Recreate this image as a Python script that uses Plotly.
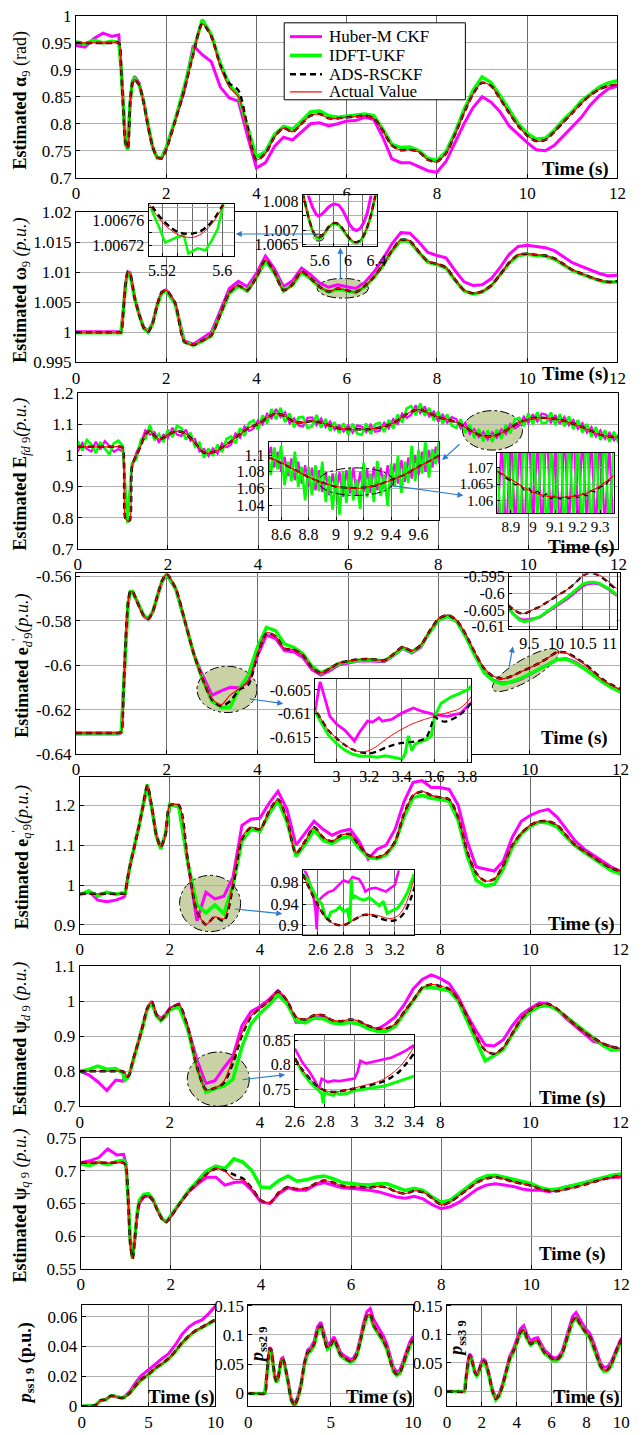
import numpy as np
import plotly.graph_objects as go

FONT = "Liberation Serif"
W, H = 643, 1435
C_HUB, C_IDF, C_ADS, C_ACT = "#ff00ff", "#00ff00", "#000000", "#ff0000"
OLIVE = "#c8d2a5"
ARROW = "#2b7bd0"

# ---------------- common time base of the seven main panels ----------------
t_main = [0, 0.2, 0.4, 0.6, 0.8,
          0.95, 1.0, 1.05, 1.1, 1.15, 1.2, 1.25, 1.3,
          1.4, 1.5, 1.6, 1.7, 1.8, 1.9,
          2.0, 2.2, 2.4, 2.6, 2.8, 3.0, 3.2, 3.4, 3.6, 3.8,
          4.0, 4.2, 4.4, 4.6, 4.8, 5.0, 5.2, 5.4, 5.6, 5.8,
          6.0, 6.2, 6.4, 6.6, 6.8, 7.0, 7.2, 7.4, 7.6, 7.8,
          8.0, 8.2, 8.4, 8.6, 8.8, 9.0, 9.2, 9.4, 9.6, 9.8,
          10.0, 10.2, 10.4, 10.6, 10.8, 11.0, 11.2, 11.4, 11.6, 11.8,
          12.0]
t_fine = np.round(np.arange(0, 12.001, 0.1), 1)

# ---------------- rotor angle alpha_9 (rad) ----------------
act_alpha = [0.950, 0.950, 0.950, 0.950, 0.950,
             0.950, 0.905, 0.830, 0.765, 0.755, 0.835, 0.874, 0.882,
             0.872, 0.840, 0.795, 0.758, 0.738, 0.736,
             0.752, 0.805, 0.862, 0.928, 0.985, 0.962, 0.905, 0.868, 0.850, 0.790,
             0.733, 0.745, 0.775, 0.792, 0.785, 0.800, 0.815, 0.818, 0.810, 0.810,
             0.812, 0.813, 0.815, 0.810, 0.787, 0.760, 0.751, 0.752, 0.748, 0.733,
             0.730, 0.745, 0.780, 0.820, 0.855, 0.876, 0.870, 0.846, 0.820, 0.796,
             0.778, 0.768, 0.770, 0.785, 0.803, 0.820, 0.838, 0.853, 0.864, 0.870,
             0.873]
ads_alpha = [0.950, 0.950, 0.950, 0.950, 0.950,
             0.950, 0.905, 0.830, 0.765, 0.755, 0.835, 0.874, 0.882,
             0.872, 0.840, 0.795, 0.758, 0.738, 0.736,
             0.752, 0.805, 0.862, 0.928, 0.985, 0.962, 0.908, 0.875, 0.862, 0.795,
             0.733, 0.745, 0.775, 0.792, 0.785, 0.800, 0.815, 0.818, 0.810, 0.810,
             0.812, 0.813, 0.815, 0.810, 0.787, 0.760, 0.751, 0.752, 0.748, 0.733,
             0.730, 0.745, 0.780, 0.820, 0.855, 0.876, 0.870, 0.846, 0.820, 0.796,
             0.778, 0.768, 0.770, 0.785, 0.803, 0.820, 0.838, 0.853, 0.864, 0.870,
             0.873]
idft_alpha = [0.952, 0.948, 0.955, 0.950, 0.953,
              0.951, 0.905, 0.832, 0.762, 0.752, 0.838, 0.876, 0.884,
              0.873, 0.842, 0.797, 0.757, 0.737, 0.737,
              0.755, 0.807, 0.868, 0.935, 0.993, 0.965, 0.912, 0.872, 0.852, 0.795,
              0.738, 0.748, 0.780, 0.795, 0.790, 0.805, 0.822, 0.824, 0.815, 0.812,
              0.814, 0.815, 0.818, 0.815, 0.790, 0.762, 0.756, 0.757, 0.750, 0.736,
              0.732, 0.748, 0.784, 0.826, 0.862, 0.887, 0.876, 0.852, 0.826, 0.800,
              0.782, 0.772, 0.773, 0.788, 0.807, 0.823, 0.842, 0.856, 0.868, 0.876,
              0.880]
huber_alpha = [0.945, 0.942, 0.958, 0.968, 0.962,
               0.965, 0.910, 0.830, 0.765, 0.752, 0.838, 0.878, 0.888,
               0.876, 0.842, 0.796, 0.757, 0.737, 0.737,
               0.755, 0.808, 0.860, 0.945, 0.928, 0.915, 0.868, 0.848, 0.842, 0.778,
               0.718, 0.728, 0.758, 0.775, 0.770, 0.785, 0.800, 0.802, 0.796, 0.800,
               0.805, 0.806, 0.812, 0.808, 0.775, 0.735, 0.728, 0.728, 0.720, 0.713,
               0.710, 0.730, 0.765, 0.800, 0.830, 0.850, 0.840, 0.822, 0.796, 0.780,
               0.765, 0.752, 0.750, 0.760, 0.778, 0.795, 0.812, 0.835, 0.852, 0.865,
               0.870]

# ---------------- speed omega_9 (p.u.) ----------------
act_omega = [1.0000, 1.0000, 1.0000, 1.0000, 1.0000,
             1.0000, 1.0000, 1.0035, 1.0080, 1.0100, 1.0098, 1.0080, 1.0058,
             1.0030, 1.0008, 1.0001, 1.0015, 1.0045, 1.0066,
             1.0070, 1.0048, 0.9985, 0.9979, 0.9986, 0.9995, 1.0030, 1.0066, 1.0078, 1.0070,
             1.0092, 1.0120, 1.0100, 1.0070, 1.0080, 1.0101, 1.0090, 1.0076, 1.0068, 1.0073,
             1.0070, 1.0067, 1.0077, 1.0092, 1.0112, 1.0136, 1.0154, 1.0152, 1.0134, 1.0118,
             1.0114, 1.0108, 1.0088, 1.0070, 1.0065, 1.0068, 1.0078, 1.0096, 1.0116, 1.0129,
             1.0131, 1.0129, 1.0128, 1.0123, 1.0114, 1.0104, 1.0098, 1.0092, 1.0087, 1.0084,
             1.0085]
ads_omega = [1.0000, 1.0000, 1.0000, 1.0000, 1.0000,
             1.0000, 1.0000, 1.0035, 1.0080, 1.0100, 1.0098, 1.0080, 1.0058,
             1.0030, 1.0008, 1.0001, 1.0015, 1.0045, 1.0066,
             1.0070, 1.0048, 0.9985, 0.9979, 0.9986, 0.9995, 1.0030, 1.0066, 1.0078, 1.0070,
             1.0092, 1.0120, 1.0100, 1.0070, 1.0080, 1.0101, 1.0090, 1.0076, 1.0068, 1.0073,
             1.0070, 1.0067, 1.0077, 1.0092, 1.0112, 1.0136, 1.0154, 1.0152, 1.0134, 1.0118,
             1.0114, 1.0108, 1.0088, 1.0070, 1.0065, 1.0068, 1.0078, 1.0096, 1.0116, 1.0129,
             1.0131, 1.0129, 1.0128, 1.0123, 1.0114, 1.0104, 1.0098, 1.0092, 1.0087, 1.0084,
             1.0085]
idft_omega = [0.9999, 0.9999, 0.9999, 0.9999, 0.9999,
              0.9999, 0.9999, 1.0034, 1.0079, 1.0099, 1.0097, 1.0079, 1.0057,
              1.0029, 1.0007, 1.0000, 1.0014, 1.0044, 1.0065,
              1.0069, 1.0047, 0.9984, 0.9978, 0.9985, 0.9994, 1.0029, 1.0065, 1.0077, 1.0069,
              1.0091, 1.0119, 1.0099, 1.0069, 1.0079, 1.0100, 1.0089, 1.0075, 1.0067, 1.0072,
              1.0069, 1.0066, 1.0076, 1.0091, 1.0111, 1.0135, 1.0153, 1.0151, 1.0133, 1.0117,
              1.0113, 1.0107, 1.0087, 1.0069, 1.0064, 1.0067, 1.0077, 1.0095, 1.0115, 1.0128,
              1.0130, 1.0128, 1.0127, 1.0122, 1.0113, 1.0103, 1.0097, 1.0091, 1.0086, 1.0083,
              1.0084]
huber_omega = [1.0001, 1.0001, 1.0001, 1.0001, 1.0001,
               1.0001, 1.0001, 1.0036, 1.0081, 1.0101, 1.0099, 1.0081, 1.0059,
               1.0031, 1.0009, 1.0002, 1.0016, 1.0046, 1.0067,
               1.0071, 1.0049, 0.9986, 0.9980, 0.9990, 1.0000, 1.0036, 1.0073, 1.0085, 1.0076,
               1.0098, 1.0127, 1.0106, 1.0076, 1.0086, 1.0107, 1.0096, 1.0082, 1.0075, 1.0079,
               1.0076, 1.0073, 1.0083, 1.0100, 1.0122, 1.0147, 1.0166, 1.0165, 1.0150, 1.0133,
               1.0128, 1.0124, 1.0103, 1.0084, 1.0078, 1.0079, 1.0089, 1.0108, 1.0130, 1.0143,
               1.0145, 1.0143, 1.0141, 1.0136, 1.0126, 1.0116, 1.0110, 1.0104, 1.0098, 1.0094,
               1.0095]

# ---------------- field voltage E_fd9 (p.u.) ----------------
act_efd = [1.027, 1.027, 1.027, 1.027, 1.027,
           1.027, 1.022, 0.800, 0.790, 0.790, 0.960, 0.985, 1.000,
           1.030, 1.068, 1.078, 1.062, 1.052, 1.056,
           1.066, 1.077, 1.068, 1.040, 1.008, 1.010, 1.025, 1.045, 1.068, 1.088,
           1.100, 1.120, 1.134, 1.125, 1.107, 1.105, 1.110, 1.105, 1.095, 1.086,
           1.084, 1.083, 1.083, 1.086, 1.092, 1.103, 1.122, 1.140, 1.147, 1.135,
           1.122, 1.115, 1.105, 1.090, 1.072, 1.062, 1.061, 1.071, 1.088, 1.105,
           1.115, 1.120, 1.119, 1.116, 1.110, 1.101, 1.090, 1.077, 1.066, 1.060,
           1.057]
ads_efd = [1.027, 1.027, 1.027, 1.027, 1.027,
           1.027, 1.022, 0.800, 0.790, 0.790, 0.960, 0.985, 1.000,
           1.030, 1.068, 1.078, 1.062, 1.052, 1.056,
           1.066, 1.077, 1.068, 1.040, 1.008, 1.010, 1.025, 1.045, 1.068, 1.088,
           1.100, 1.120, 1.134, 1.125, 1.107, 1.105, 1.110, 1.105, 1.095, 1.086,
           1.084, 1.083, 1.083, 1.086, 1.092, 1.103, 1.122, 1.140, 1.147, 1.135,
           1.122, 1.115, 1.105, 1.090, 1.072, 1.062, 1.061, 1.071, 1.088, 1.105,
           1.115, 1.120, 1.119, 1.116, 1.110, 1.101, 1.090, 1.077, 1.066, 1.060,
           1.057]
idft_efd = [1.045, 1.015, 1.049, 1.035, 1.007, 1.042, 1.021, 1.003, 1.039, 1.047,
            1.030, 0.783, 0.975, 0.988, 1.050, 1.052, 1.097, 1.048, 1.068, 1.042,
            1.082, 1.058, 1.094, 1.087, 1.050, 1.072, 1.028, 1.040, 0.992, 1.021,
            0.998, 1.034, 1.010, 1.052, 1.060, 1.038, 1.087, 1.062, 1.104, 1.112,
            1.082, 1.128, 1.102, 1.148, 1.115, 1.152, 1.106, 1.134, 1.089, 1.121,
            1.123, 1.087, 1.094, 1.129, 1.088, 1.116, 1.078, 1.106, 1.071, 1.102,
            1.066, 1.101, 1.070, 1.065, 1.102, 1.068, 1.099, 1.104, 1.074, 1.113,
            1.086, 1.130, 1.105, 1.150, 1.158, 1.128, 1.166, 1.126, 1.152, 1.112,
            1.140, 1.101, 1.131, 1.095, 1.088, 1.116, 1.072, 1.098, 1.055, 1.084,
            1.044, 1.079, 1.042, 1.082, 1.053, 1.097, 1.070, 1.115, 1.120, 1.093,
            1.134, 1.099, 1.138, 1.103, 1.104, 1.137, 1.097, 1.131, 1.093, 1.124,
            1.084, 1.113, 1.073, 1.100, 1.060, 1.090, 1.049, 1.080, 1.043, 1.075,
            1.040]
huber_efd = [1.012, 1.040, 1.020, 1.012, 1.043, 1.018, 1.045, 1.030, 1.011, 1.020,
             1.012, 0.792, 0.962, 1.008, 1.040, 1.080, 1.066, 1.074, 1.040, 1.066,
             1.055, 1.088, 1.066, 1.062, 1.082, 1.046, 1.052, 1.012, 1.020, 0.998,
             1.022, 1.005, 1.038, 1.026, 1.034, 1.070, 1.056, 1.092, 1.078, 1.085,
             1.112, 1.098, 1.133, 1.118, 1.148, 1.122, 1.138, 1.102, 1.118, 1.095,
             1.092, 1.120, 1.121, 1.096, 1.118, 1.090, 1.108, 1.082, 1.096, 1.076,
             1.096, 1.072, 1.095, 1.092, 1.074, 1.098, 1.075, 1.078, 1.104, 1.086,
             1.116, 1.100, 1.134, 1.120, 1.130, 1.160, 1.135, 1.156, 1.124, 1.140,
             1.108, 1.130, 1.104, 1.122, 1.116, 1.086, 1.104, 1.068, 1.084, 1.058,
             1.075, 1.050, 1.073, 1.056, 1.083, 1.068, 1.100, 1.086, 1.096, 1.124,
             1.103, 1.131, 1.108, 1.134, 1.130, 1.105, 1.129, 1.100, 1.123, 1.096,
             1.113, 1.084, 1.103, 1.072, 1.090, 1.060, 1.080, 1.052, 1.072, 1.048,
             1.066]

# ---------------- transient voltage e'_d9 (p.u.) ----------------
act_ed = [-0.6305, -0.6305, -0.6305, -0.6305, -0.6305,
          -0.6305, -0.6300, -0.6120, -0.5880, -0.5720, -0.5668, -0.5668, -0.5690,
          -0.5738, -0.5778, -0.5790, -0.5755, -0.5685, -0.5620,
          -0.5590, -0.5655, -0.5800, -0.5950, -0.6065, -0.6152, -0.6178, -0.6135, -0.6106, -0.6070,
          -0.5950, -0.5855, -0.5870, -0.5925, -0.5930, -0.5955, -0.6010, -0.6035, -0.6015, -0.5990,
          -0.5982, -0.5975, -0.5972, -0.5975, -0.5978, -0.5950, -0.5918, -0.5935, -0.5910, -0.5845,
          -0.5790, -0.5775, -0.5800, -0.5865, -0.5945, -0.6015, -0.6050, -0.6061, -0.6050, -0.6030,
          -0.6012, -0.5992, -0.5968, -0.5942, -0.5945, -0.5968, -0.5995, -0.6030, -0.6065, -0.6090,
          -0.6110]
ads_ed = [-0.6305, -0.6305, -0.6305, -0.6305, -0.6305,
          -0.6305, -0.6300, -0.6120, -0.5880, -0.5720, -0.5668, -0.5668, -0.5690,
          -0.5738, -0.5778, -0.5790, -0.5755, -0.5685, -0.5620,
          -0.5590, -0.5655, -0.5800, -0.5950, -0.6065, -0.6155, -0.6184, -0.6162, -0.6110, -0.6088,
          -0.5955, -0.5857, -0.5870, -0.5925, -0.5930, -0.5955, -0.6010, -0.6035, -0.6015, -0.5990,
          -0.5982, -0.5975, -0.5972, -0.5975, -0.5978, -0.5950, -0.5918, -0.5935, -0.5910, -0.5845,
          -0.5790, -0.5775, -0.5800, -0.5865, -0.5945, -0.6015, -0.6050, -0.6061, -0.6050, -0.6030,
          -0.6012, -0.5992, -0.5968, -0.5942, -0.5943, -0.5965, -0.5992, -0.6027, -0.6062, -0.6088,
          -0.6108]
idft_ed = [-0.6305, -0.6305, -0.6305, -0.6305, -0.6305,
           -0.6305, -0.6300, -0.6120, -0.5880, -0.5720, -0.5668, -0.5668, -0.5690,
           -0.5738, -0.5778, -0.5790, -0.5755, -0.5685, -0.5620,
           -0.5590, -0.5655, -0.5800, -0.5952, -0.6070, -0.6163, -0.6190, -0.6190, -0.6106, -0.6045,
           -0.5920, -0.5830, -0.5845, -0.5905, -0.5920, -0.5948, -0.6005, -0.6035, -0.6015, -0.5992,
           -0.5985, -0.5978, -0.5975, -0.5978, -0.5980, -0.5955, -0.5922, -0.5940, -0.5915, -0.5850,
           -0.5795, -0.5780, -0.5805, -0.5875, -0.5960, -0.6035, -0.6070, -0.6085, -0.6075, -0.6060,
           -0.6040, -0.6020, -0.5998, -0.5975, -0.5972, -0.5990, -0.6015, -0.6045, -0.6075, -0.6100,
           -0.6120]
huber_ed = [-0.6310, -0.6310, -0.6310, -0.6310, -0.6310,
            -0.6310, -0.6305, -0.6125, -0.5885, -0.5725, -0.5672, -0.5672, -0.5694,
            -0.5742, -0.5782, -0.5795, -0.5760, -0.5690, -0.5625,
            -0.5593, -0.5658, -0.5802, -0.5950, -0.6050, -0.6135, -0.6116, -0.6100, -0.6102, -0.6075,
            -0.5960, -0.5865, -0.5880, -0.5935, -0.5940, -0.5965, -0.6020, -0.6045, -0.6025, -0.5998,
            -0.5990, -0.5982, -0.5980, -0.5982, -0.5985, -0.5958, -0.5925, -0.5945, -0.5920, -0.5850,
            -0.5795, -0.5780, -0.5805, -0.5872, -0.5955, -0.6030, -0.6068, -0.6080, -0.6077, -0.6064,
            -0.6042, -0.6022, -0.6000, -0.5975, -0.5970, -0.5985, -0.6012, -0.6045, -0.6075, -0.6098,
            -0.6118]

# ---------------- transient voltage e'_q9 (p.u.) ----------------
act_eq = [0.978, 0.978, 0.978, 0.978, 0.978,
          0.978, 0.978, 1.010, 1.040, 1.065, 1.090, 1.115, 1.140,
          1.195, 1.250, 1.195, 1.125, 1.096, 1.125,
          1.200, 1.200, 1.060, 0.935, 0.901, 0.920, 0.915, 1.010, 1.120, 1.145,
          1.140, 1.185, 1.215, 1.165, 1.080, 1.110, 1.145, 1.120, 1.110, 1.125,
          1.128, 1.100, 1.075, 1.070, 1.080, 1.110, 1.180, 1.225, 1.235, 1.225,
          1.220, 1.215, 1.170, 1.085, 1.030, 1.010, 1.015, 1.050, 1.100, 1.130,
          1.150, 1.160, 1.160, 1.150, 1.125, 1.100, 1.085, 1.070, 1.055, 1.042,
          1.035]
ads_eq = [0.978, 0.978, 0.978, 0.978, 0.978,
          0.978, 0.978, 1.010, 1.040, 1.065, 1.090, 1.115, 1.140,
          1.195, 1.250, 1.195, 1.125, 1.096, 1.125,
          1.200, 1.200, 1.060, 0.935, 0.901, 0.920, 0.910, 0.995, 1.115, 1.145,
          1.140, 1.185, 1.215, 1.165, 1.080, 1.110, 1.145, 1.120, 1.110, 1.125,
          1.128, 1.100, 1.075, 1.070, 1.080, 1.110, 1.180, 1.225, 1.235, 1.225,
          1.220, 1.215, 1.170, 1.085, 1.030, 1.010, 1.015, 1.050, 1.100, 1.130,
          1.150, 1.160, 1.160, 1.150, 1.125, 1.100, 1.085, 1.070, 1.055, 1.042,
          1.035]
idft_eq = [0.975, 0.985, 0.972, 0.982, 0.976,
           0.980, 0.975, 1.012, 1.038, 1.068, 1.088, 1.118, 1.138,
           1.198, 1.252, 1.192, 1.122, 1.090, 1.128,
           1.203, 1.196, 1.055, 0.950, 0.930, 0.950, 0.928, 1.000, 1.110, 1.140,
           1.135, 1.178, 1.212, 1.158, 1.072, 1.102, 1.138, 1.112, 1.104, 1.118,
           1.122, 1.092, 1.070, 1.066, 1.075, 1.105, 1.172, 1.220, 1.225, 1.218,
           1.215, 1.210, 1.162, 1.072, 1.012, 0.998, 1.002, 1.040, 1.095, 1.128,
           1.148, 1.158, 1.156, 1.145, 1.120, 1.098, 1.082, 1.066, 1.050, 1.036,
           1.028]
huber_eq = [0.975, 0.985, 0.962, 0.958, 0.962,
            0.968, 0.972, 1.010, 1.040, 1.065, 1.090, 1.115, 1.140,
            1.195, 1.250, 1.195, 1.125, 1.096, 1.125,
            1.200, 1.200, 1.060, 0.910, 0.982, 0.965, 0.972, 1.020, 1.150, 1.165,
            1.168, 1.205, 1.235, 1.190, 1.100, 1.130, 1.160, 1.140, 1.125, 1.135,
            1.140, 1.110, 1.065, 1.090, 1.100, 1.140, 1.210, 1.258, 1.262, 1.245,
            1.245, 1.240, 1.200, 1.110, 1.045, 1.040, 1.035, 1.060, 1.120, 1.160,
            1.175, 1.185, 1.190, 1.170, 1.140, 1.110, 1.090, 1.075, 1.060, 1.045,
            1.035]

# ---------------- flux psi_d9 (p.u.) ----------------
act_psd = [0.800, 0.800, 0.800, 0.800, 0.800,
           0.800, 0.795, 0.784, 0.790, 0.815, 0.840, 0.862, 0.882,
           0.930, 0.980, 0.998, 0.962, 0.947, 0.960,
           0.978, 0.990, 0.925, 0.813, 0.748, 0.752, 0.772, 0.837, 0.910, 0.958,
           0.980, 1.000, 1.028, 1.002, 0.955, 0.948, 0.960, 0.960, 0.946, 0.943,
           0.948, 0.943, 0.930, 0.922, 0.922, 0.935, 0.970, 1.003, 1.038, 1.048,
           1.043, 1.035, 1.005, 0.955, 0.900, 0.860, 0.850, 0.868, 0.908, 0.950,
           0.975, 0.990, 0.992, 0.978, 0.955, 0.932, 0.912, 0.895, 0.880, 0.870,
           0.865]
ads_psd = [0.800, 0.800, 0.800, 0.800, 0.800,
           0.800, 0.795, 0.784, 0.790, 0.815, 0.840, 0.862, 0.882,
           0.930, 0.980, 0.998, 0.962, 0.947, 0.960,
           0.978, 0.990, 0.925, 0.813, 0.748, 0.752, 0.767, 0.823, 0.902, 0.955,
           0.980, 1.000, 1.028, 1.002, 0.955, 0.948, 0.960, 0.960, 0.946, 0.943,
           0.948, 0.943, 0.930, 0.922, 0.922, 0.935, 0.970, 1.003, 1.038, 1.048,
           1.043, 1.035, 1.005, 0.955, 0.900, 0.860, 0.850, 0.868, 0.908, 0.950,
           0.975, 0.990, 0.992, 0.978, 0.955, 0.932, 0.912, 0.895, 0.880, 0.870,
           0.865]
idft_psd = [0.800, 0.805, 0.815, 0.806, 0.808,
            0.795, 0.775, 0.780, 0.790, 0.812, 0.838, 0.860, 0.880,
            0.928, 0.978, 0.995, 0.958, 0.944, 0.957,
            0.975, 0.985, 0.918, 0.810, 0.740, 0.750, 0.758, 0.777, 0.870, 0.935,
            0.965, 0.988, 1.018, 0.992, 0.945, 0.938, 0.952, 0.950, 0.938, 0.935,
            0.940, 0.935, 0.922, 0.914, 0.914, 0.928, 0.965, 1.000, 1.038, 1.040,
            1.036, 1.030, 1.000, 0.945, 0.885, 0.830, 0.845, 0.862, 0.905, 0.945,
            0.970, 0.985, 0.988, 0.975, 0.955, 0.935, 0.915, 0.895, 0.875, 0.860,
            0.862]
huber_psd = [0.800, 0.790, 0.770, 0.745, 0.775,
             0.772, 0.782, 0.784, 0.792, 0.815, 0.840, 0.862, 0.882,
             0.930, 0.980, 1.000, 0.962, 0.950, 0.962,
             0.980, 0.992, 0.925, 0.833, 0.765, 0.773, 0.810, 0.843, 0.930, 0.970,
             0.985, 1.005, 1.030, 1.000, 0.940, 0.940, 0.955, 0.955, 0.940, 0.938,
             0.940, 0.935, 0.925, 0.920, 0.935, 0.955, 0.990, 1.035, 1.062, 1.075,
             1.065, 1.050, 1.012, 0.960, 0.915, 0.875, 0.872, 0.890, 0.930, 0.962,
             0.980, 0.995, 0.992, 0.975, 0.950, 0.928, 0.905, 0.885, 0.878, 0.870,
             0.862]

# ---------------- flux psi_q9 (p.u.) ----------------
act_psq = [0.712, 0.712, 0.712, 0.712, 0.712,
           0.712, 0.708, 0.660, 0.590, 0.566, 0.595, 0.630, 0.650,
           0.660, 0.662, 0.655, 0.640, 0.627, 0.622,
           0.630, 0.650, 0.668, 0.682, 0.695, 0.703, 0.699, 0.687, 0.686, 0.672,
           0.655, 0.651, 0.667, 0.675, 0.672, 0.673, 0.680, 0.685, 0.682, 0.677,
           0.675, 0.675, 0.674, 0.676, 0.674, 0.668, 0.665, 0.669, 0.667, 0.658,
           0.648, 0.652, 0.662, 0.672, 0.682, 0.688, 0.690, 0.687, 0.683, 0.680,
           0.677, 0.672, 0.669, 0.669, 0.672, 0.675, 0.679, 0.683, 0.687, 0.690,
           0.692]
ads_psq = [0.712, 0.712, 0.712, 0.712, 0.712,
           0.712, 0.708, 0.660, 0.590, 0.566, 0.595, 0.630, 0.650,
           0.660, 0.662, 0.655, 0.640, 0.627, 0.622,
           0.630, 0.650, 0.668, 0.682, 0.695, 0.703, 0.700, 0.694, 0.688, 0.673,
           0.655, 0.651, 0.667, 0.675, 0.672, 0.673, 0.680, 0.685, 0.682, 0.677,
           0.675, 0.675, 0.674, 0.676, 0.674, 0.668, 0.665, 0.669, 0.667, 0.658,
           0.648, 0.652, 0.662, 0.672, 0.682, 0.688, 0.690, 0.687, 0.683, 0.680,
           0.677, 0.672, 0.669, 0.669, 0.672, 0.675, 0.679, 0.683, 0.687, 0.690,
           0.692]
idft_psq = [0.710, 0.708, 0.713, 0.709, 0.714,
            0.716, 0.712, 0.662, 0.592, 0.566, 0.598, 0.635, 0.655,
            0.664, 0.665, 0.657, 0.641, 0.627, 0.622,
            0.632, 0.652, 0.670, 0.685, 0.700, 0.707, 0.703, 0.718, 0.713, 0.700,
            0.675, 0.674, 0.685, 0.692, 0.684, 0.686, 0.690, 0.692, 0.688, 0.682,
            0.680, 0.679, 0.678, 0.680, 0.680, 0.675, 0.670, 0.673, 0.670, 0.660,
            0.652, 0.655, 0.665, 0.675, 0.686, 0.692, 0.693, 0.690, 0.687, 0.683,
            0.680, 0.674, 0.671, 0.672, 0.675, 0.678, 0.682, 0.686, 0.690, 0.693,
            0.695]
huber_psq = [0.712, 0.715, 0.720, 0.733, 0.724,
             0.725, 0.712, 0.660, 0.590, 0.566, 0.595, 0.630, 0.650,
             0.660, 0.662, 0.655, 0.640, 0.627, 0.622,
             0.630, 0.650, 0.668, 0.680, 0.690, 0.690, 0.678, 0.682, 0.683, 0.670,
             0.652, 0.650, 0.665, 0.674, 0.670, 0.670, 0.678, 0.682, 0.678, 0.674,
             0.673, 0.672, 0.670, 0.668, 0.664, 0.660, 0.658, 0.661, 0.657, 0.648,
             0.642, 0.645, 0.652, 0.662, 0.672, 0.678, 0.680, 0.678, 0.676, 0.672,
             0.670, 0.670, 0.668, 0.672, 0.676, 0.678, 0.682, 0.686, 0.688, 0.690,
             0.690]

# ---------------- PSS outputs (bottom row) ----------------
t_ss1 = [0, 0.5, 1.0, 1.2, 1.4, 1.6, 1.8, 2.0, 2.2, 2.4, 2.6, 2.8, 3.0, 3.2,
         3.6, 4.0, 4.4, 5.0, 5.5, 6.0, 6.5, 7.0, 7.5, 8.0, 8.5, 9.0, 9.5, 10.0]
act_ss1 = [0, 0, 0.0005, 0.0020, 0.0038, 0.0042, 0.0045, 0.0058, 0.0070, 0.0068, 0.0062, 0.0057, 0.0055, 0.0060,
           0.0090, 0.0135, 0.0175, 0.0215, 0.0255, 0.0285, 0.0320, 0.0368, 0.0425, 0.0470, 0.0505, 0.0530, 0.0555, 0.0580]
ads_ss1 = [0, 0, 0.0005, 0.0020, 0.0038, 0.0042, 0.0045, 0.0058, 0.0070, 0.0068, 0.0062, 0.0057, 0.0055, 0.0060,
           0.0090, 0.0135, 0.0175, 0.0215, 0.0255, 0.0285, 0.0320, 0.0368, 0.0425, 0.0470, 0.0505, 0.0530, 0.0555, 0.0580]
idft_ss1 = [0, 0, 0.0005, 0.0020, 0.0038, 0.0042, 0.0045, 0.0058, 0.0070, 0.0068, 0.0062, 0.0057, 0.0055, 0.0060,
            0.0088, 0.0132, 0.0172, 0.0212, 0.0252, 0.0282, 0.0317, 0.0365, 0.0422, 0.0467, 0.0502, 0.0527, 0.0552, 0.0577]
huber_ss1 = [0, 0, 0.0005, 0.0020, 0.0038, 0.0042, 0.0045, 0.0058, 0.0070, 0.0068, 0.0062, 0.0058, 0.0058, 0.0065,
             0.0100, 0.0155, 0.0200, 0.0245, 0.0285, 0.0318, 0.0352, 0.0410, 0.0480, 0.0530, 0.0560, 0.0578, 0.0620, 0.0670]

t_ss = [0, 0.5, 1.0, 1.1, 1.2, 1.3, 1.4, 1.5, 1.6, 1.7, 1.8, 1.9, 2.0, 2.1, 2.2,
        2.4, 2.6, 2.8, 3.0, 3.2, 3.4, 3.6, 3.8,
        4.0, 4.2, 4.4, 4.6, 4.8, 5.0, 5.2, 5.4, 5.6, 5.8,
        6.0, 6.2, 6.4, 6.6, 6.8, 7.0, 7.2, 7.4, 7.6, 7.8,
        8.0, 8.2, 8.4, 8.6, 8.8, 9.0, 9.2, 9.4, 9.6, 9.8, 10.0]
act_ss2 = [0, 0, 0, 0.025, 0.058, 0.077, 0.073, 0.052, 0.030, 0.021, 0.025, 0.042, 0.057, 0.059, 0.050,
           0.022, -0.010, -0.020, -0.008, 0.015, 0.050, 0.070, 0.075,
           0.085, 0.108, 0.116, 0.095, 0.078, 0.083, 0.092, 0.080, 0.066, 0.062,
           0.058, 0.055, 0.058, 0.068, 0.090, 0.115, 0.133, 0.135, 0.117, 0.108,
           0.100, 0.090, 0.078, 0.058, 0.040, 0.033, 0.036, 0.050, 0.068, 0.082, 0.093]
ads_ss2 = [0, 0, 0, 0.025, 0.058, 0.077, 0.073, 0.052, 0.030, 0.021, 0.025, 0.042, 0.057, 0.059, 0.050,
           0.022, -0.010, -0.020, -0.008, 0.015, 0.050, 0.070, 0.075,
           0.085, 0.108, 0.116, 0.095, 0.078, 0.083, 0.092, 0.080, 0.066, 0.062,
           0.058, 0.055, 0.058, 0.068, 0.090, 0.115, 0.133, 0.135, 0.117, 0.108,
           0.100, 0.090, 0.078, 0.058, 0.040, 0.033, 0.036, 0.050, 0.068, 0.082, 0.093]
idft_ss2 = [0, 0, 0, 0.024, 0.056, 0.075, 0.071, 0.050, 0.028, 0.019, 0.023, 0.040, 0.055, 0.057, 0.048,
            0.020, -0.012, -0.022, -0.010, 0.013, 0.048, 0.068, 0.073,
            0.083, 0.106, 0.114, 0.093, 0.076, 0.081, 0.090, 0.078, 0.064, 0.060,
            0.056, 0.053, 0.056, 0.066, 0.088, 0.113, 0.131, 0.133, 0.115, 0.106,
            0.098, 0.088, 0.076, 0.056, 0.038, 0.031, 0.034, 0.048, 0.066, 0.080, 0.091]
huber_ss2 = [0, 0, 0, 0.026, 0.060, 0.079, 0.075, 0.054, 0.032, 0.023, 0.027, 0.044, 0.059, 0.061, 0.052,
             0.024, -0.008, -0.018, -0.006, 0.017, 0.053, 0.074, 0.079,
             0.090, 0.114, 0.122, 0.100, 0.083, 0.088, 0.097, 0.084, 0.070, 0.065,
             0.061, 0.058, 0.061, 0.072, 0.095, 0.121, 0.140, 0.145, 0.127, 0.118,
             0.108, 0.098, 0.085, 0.064, 0.045, 0.037, 0.040, 0.055, 0.073, 0.088, 0.098]
act_ss3 = [0, 0, 0, 0.025, 0.050, 0.063, 0.058, 0.045, 0.034, 0.029, 0.033, 0.042, 0.050, 0.053, 0.051,
           0.030, 0.002, -0.013, -0.006, 0.012, 0.035, 0.058, 0.070,
           0.085, 0.103, 0.108, 0.093, 0.083, 0.088, 0.089, 0.077, 0.068, 0.064,
           0.058, 0.055, 0.058, 0.066, 0.085, 0.105, 0.124, 0.130, 0.120, 0.110,
           0.102, 0.095, 0.080, 0.062, 0.045, 0.037, 0.038, 0.046, 0.062, 0.078, 0.090]
ads_ss3 = [0, 0, 0, 0.025, 0.050, 0.063, 0.058, 0.045, 0.034, 0.029, 0.033, 0.042, 0.050, 0.053, 0.051,
           0.030, 0.002, -0.013, -0.006, 0.012, 0.035, 0.058, 0.070,
           0.085, 0.103, 0.108, 0.093, 0.083, 0.088, 0.089, 0.077, 0.068, 0.064,
           0.058, 0.055, 0.058, 0.066, 0.085, 0.105, 0.124, 0.130, 0.120, 0.110,
           0.102, 0.095, 0.080, 0.062, 0.045, 0.037, 0.038, 0.046, 0.062, 0.078, 0.090]
idft_ss3 = [0, 0, 0, 0.024, 0.048, 0.061, 0.056, 0.043, 0.032, 0.027, 0.031, 0.040, 0.048, 0.051, 0.049,
            0.028, 0.000, -0.015, -0.008, 0.010, 0.033, 0.056, 0.068,
            0.083, 0.101, 0.106, 0.091, 0.081, 0.086, 0.087, 0.075, 0.066, 0.062,
            0.056, 0.053, 0.056, 0.064, 0.083, 0.103, 0.122, 0.128, 0.118, 0.108,
            0.100, 0.093, 0.078, 0.060, 0.043, 0.035, 0.036, 0.044, 0.060, 0.076, 0.088]
huber_ss3 = [0, 0, 0, 0.026, 0.052, 0.066, 0.061, 0.048, 0.036, 0.031, 0.035, 0.044, 0.053, 0.056, 0.054,
             0.032, 0.004, -0.011, -0.004, 0.015, 0.038, 0.062, 0.074,
             0.090, 0.109, 0.115, 0.099, 0.088, 0.093, 0.094, 0.082, 0.072, 0.067,
             0.061, 0.058, 0.061, 0.070, 0.090, 0.111, 0.131, 0.138, 0.127, 0.117,
             0.108, 0.101, 0.086, 0.067, 0.050, 0.042, 0.043, 0.051, 0.066, 0.082, 0.094]

# ---------------- zoomed windows ----------------
# omega_9, window 5.50-5.62 s
zw1_t = [5.50, 5.51, 5.52, 5.53, 5.54, 5.55, 5.56, 5.57, 5.58, 5.59, 5.60, 5.61]
zw1_act = [1.006790, 1.006772, 1.006757, 1.006746, 1.006738, 1.006734,
           1.006733, 1.006737, 1.006746, 1.006760, 1.006780, 1.006805]
zw1_ads = [1.006795, 1.006776, 1.006761, 1.006750, 1.006742, 1.006739,
           1.006739, 1.006742, 1.006750, 1.006763, 1.006782, 1.006805]
zw1_idft_t = [5.505, 5.515, 5.524, 5.539, 5.549, 5.555, 5.567, 5.578, 5.586, 5.594, 5.602]
zw1_idft = [1.006778, 1.006752, 1.006725, 1.006733, 1.006736, 1.006708,
            1.006716, 1.006713, 1.006728, 1.006746, 1.006786]

# omega_9, window 5.4-6.4 s
zw2_t = [5.36, 5.40, 5.45, 5.50, 5.55, 5.58, 5.62, 5.67, 5.72, 5.77, 5.82, 5.87,
         5.92, 5.97, 6.02, 6.07, 6.12, 6.17, 6.22, 6.27, 6.32, 6.36, 6.40]
zw2_act = [1.00835, 1.00790, 1.00740, 1.00700, 1.00678, 1.006735, 1.00678, 1.00692,
           1.00710, 1.00722, 1.00726, 1.00721, 1.00707, 1.00688, 1.00672, 1.00661,
           1.00658, 1.00664, 1.00682, 1.00712, 1.00752, 1.00795, 1.00840]
zw2_ads = [1.00835, 1.00790, 1.00740, 1.00700, 1.00678, 1.006735, 1.00678, 1.00692,
           1.00710, 1.00722, 1.00726, 1.00721, 1.00707, 1.00688, 1.00672, 1.00661,
           1.00658, 1.00664, 1.00682, 1.00712, 1.00752, 1.00795, 1.00840]
zw2_idft = [1.00832, 1.00787, 1.00737, 1.00697, 1.00675, 1.00670, 1.00675, 1.00689,
            1.00707, 1.00719, 1.00723, 1.00718, 1.00704, 1.00685, 1.00669, 1.00658,
            1.00655, 1.00661, 1.00679, 1.00709, 1.00749, 1.00792, 1.00837]
zw2_huber = [1.00900, 1.00860, 1.00815, 1.00780, 1.00756, 1.00750, 1.00754, 1.00766,
             1.00780, 1.00789, 1.00792, 1.00788, 1.00772, 1.00748, 1.00720, 1.00704,
             1.00699, 1.00706, 1.00726, 1.00760, 1.00810, 1.00860, 1.00910]

# E_fd9, window 8.5-9.8 s
ze1_t = [8.5, 8.6, 8.7, 8.8, 8.9, 9.0, 9.1, 9.2, 9.3, 9.4, 9.5, 9.6, 9.7, 9.8]
ze1_act = [1.098, 1.091, 1.082, 1.074, 1.067, 1.0625, 1.0605, 1.061, 1.0645, 1.070, 1.077, 1.086, 1.095, 1.104]
ze1_ads = [1.098, 1.0905, 1.0825, 1.0735, 1.0672, 1.0622, 1.0608, 1.0612, 1.0642, 1.0703, 1.0768, 1.0862, 1.0948, 1.104]
ze1_tn = np.round(np.arange(8.5, 9.7751, 0.025), 3)
ze1_idft = [1.108, 1.076, 1.109, 1.083, 1.111, 1.064, 1.092, 1.069, 1.104, 1.062,
            1.086, 1.046, 1.086, 1.052, 1.088, 1.057, 1.092, 1.044, 1.075, 1.035,
            1.078, 1.029, 1.081, 1.043, 1.085, 1.046, 1.071, 1.036, 1.091, 1.050,
            1.078, 1.044, 1.093, 1.051, 1.077, 1.039, 1.090, 1.062, 1.099, 1.055,
            1.092, 1.067, 1.111, 1.069, 1.106, 1.078, 1.116, 1.073, 1.107, 1.089,
            1.120, 1.087]
ze1_huber = [1.092, 1.110, 1.085, 1.104, 1.080, 1.098, 1.075, 1.096, 1.070, 1.092,
             1.066, 1.088, 1.062, 1.085, 1.058, 1.082, 1.056, 1.080, 1.052, 1.078,
             1.055, 1.080, 1.050, 1.082, 1.054, 1.085, 1.052, 1.080, 1.056, 1.083,
             1.055, 1.086, 1.058, 1.085, 1.060, 1.088, 1.062, 1.090, 1.066, 1.094,
             1.068, 1.097, 1.072, 1.100, 1.076, 1.104, 1.080, 1.106, 1.085, 1.110,
             1.090, 1.112]

# E_fd9, window 8.84-9.36 s
ze2_t = [8.84, 8.9, 8.95, 9.0, 9.05, 9.1, 9.15, 9.2, 9.25, 9.3, 9.35, 9.4]
ze2_act = [1.0690, 1.0665, 1.0643, 1.0625, 1.0615, 1.0610, 1.0610, 1.0615, 1.0625, 1.0645, 1.0670, 1.0703]
ze2_tn = np.round(np.arange(8.84, 9.3601, 0.02), 2)
ze2_ads = [1.0690, 1.0680, 1.0668, 1.0660, 1.0648, 1.0652, 1.0632, 1.0638, 1.0620, 1.0628,
           1.0612, 1.0620, 1.0606, 1.0616, 1.0605, 1.0614, 1.0606, 1.0617, 1.0609, 1.0620,
           1.0615, 1.0630, 1.0626, 1.0642, 1.0645, 1.0662, 1.0670]
ze2_idft = [1.0700, 1.0480, 1.0820, 1.0520, 1.0790, 1.0470, 1.0850, 1.0500, 1.0800, 1.0530,
            1.0830, 1.0490, 1.0780, 1.0510, 1.0860, 1.0480, 1.0810, 1.0540, 1.0790, 1.0500,
            1.0840, 1.0470, 1.0800, 1.0520, 1.0830, 1.0490, 1.0770]
ze2_huber = [1.0520, 1.0790, 1.0480, 1.0830, 1.0500, 1.0810, 1.0470, 1.0840, 1.0510, 1.0800,
             1.0490, 1.0850, 1.0520, 1.0790, 1.0480, 1.0820, 1.0500, 1.0860, 1.0470, 1.0810,
             1.0530, 1.0800, 1.0490, 1.0840, 1.0510, 1.0780, 1.0500]

# e'_d9, window 2.87-3.82 s
zd1_t = [2.85, 2.9, 2.95, 3.0, 3.05, 3.1, 3.15, 3.2, 3.25, 3.3, 3.35, 3.4, 3.45, 3.5,
         3.55, 3.6, 3.65, 3.7, 3.75, 3.8, 3.85]
zd1_act = [-0.6080, -0.6108, -0.6135, -0.6152, -0.6166, -0.6176, -0.6181, -0.6178, -0.6168,
           -0.6155, -0.6143, -0.6133, -0.6124, -0.6117, -0.6111, -0.6106, -0.6101, -0.6096,
           -0.6090, -0.6075, -0.6050]
zd1_ads_t = [2.85, 2.9, 2.95, 3.0, 3.05, 3.1, 3.15, 3.2, 3.25, 3.3, 3.35, 3.4, 3.45, 3.5,
             3.55, 3.58, 3.6, 3.62, 3.66, 3.7, 3.75, 3.8, 3.85]
zd1_ads = [-0.6080, -0.6108, -0.6135, -0.6152, -0.6166, -0.6176, -0.6182, -0.6184, -0.6180,
           -0.6172, -0.6166, -0.6162, -0.6160, -0.6158, -0.6150, -0.6125, -0.6106, -0.6112,
           -0.6117, -0.6113, -0.6104, -0.6088, -0.6065]
zd1_idft_t = [2.85, 2.9, 2.95, 3.0, 3.05, 3.1, 3.15, 3.2, 3.25, 3.3, 3.35, 3.4, 3.42, 3.44,
              3.46, 3.48, 3.5, 3.55, 3.58, 3.6, 3.64, 3.7, 3.75, 3.8, 3.85]
zd1_idft = [-0.6085, -0.6115, -0.6145, -0.6163, -0.6177, -0.6186, -0.6190, -0.6190, -0.6192,
            -0.6189, -0.6193, -0.6196, -0.6185, -0.6147, -0.6178, -0.6165, -0.6161, -0.6155,
            -0.6147, -0.6106, -0.6078, -0.6065, -0.6058, -0.6050, -0.6035]
zd1_huber_t = [2.87, 2.9, 2.92, 2.96, 3.0, 3.05, 3.11, 3.14, 3.19, 3.22, 3.26, 3.28, 3.34,
               3.4, 3.47, 3.52, 3.6, 3.68, 3.76, 3.85]
zd1_huber = [-0.6092, -0.6033, -0.6057, -0.6106, -0.6122, -0.6135, -0.6158, -0.6140, -0.6116,
             -0.6118, -0.6109, -0.6116, -0.6112, -0.6099, -0.6088, -0.6095, -0.6102, -0.6106,
             -0.6099, -0.6068]

# e'_d9, window 9.1-11.1 s
zd2_t = [9.1, 9.2, 9.3, 9.4, 9.5, 9.6, 9.7, 9.8, 9.9, 10.0, 10.1, 10.2, 10.3, 10.4,
         10.5, 10.6, 10.7, 10.8, 10.9, 11.0, 11.1, 11.2]
zd2_act = [-0.6035, -0.6048, -0.6058, -0.6061, -0.6055, -0.6047, -0.6040, -0.6030, -0.6020,
           -0.6010, -0.6000, -0.5990, -0.5978, -0.5963, -0.5948, -0.5940, -0.5940, -0.5945,
           -0.5955, -0.5968, -0.5982, -0.5995]
zd2_ads = [-0.6035, -0.6048, -0.6058, -0.6061, -0.6055, -0.6047, -0.6040, -0.6030, -0.6020,
           -0.6010, -0.6000, -0.5990, -0.5978, -0.5963, -0.5948, -0.5940, -0.5941, -0.5947,
           -0.5958, -0.5972, -0.5986, -0.5999]
zd2_idft = [-0.6040, -0.6062, -0.6078, -0.6085, -0.6082, -0.6077, -0.6070, -0.6058, -0.6047,
            -0.6035, -0.6025, -0.6013, -0.6000, -0.5985, -0.5973, -0.5968, -0.5967, -0.5970,
            -0.5978, -0.5988, -0.6000, -0.6012]
zd2_huber = [-0.6045, -0.6062, -0.6075, -0.6080, -0.6078, -0.6076, -0.6072, -0.6060, -0.6050,
             -0.6038, -0.6028, -0.6018, -0.6005, -0.5990, -0.5978, -0.5972, -0.5970, -0.5972,
             -0.5980, -0.5990, -0.6003, -0.6015]

# e'_q9, window 2.48-3.35 s
zq_t = [2.48, 2.52, 2.56, 2.6, 2.64, 2.68, 2.72, 2.76, 2.8, 2.84, 2.88, 2.92, 2.96, 3.0,
        3.04, 3.08, 3.12, 3.16, 3.2, 3.24, 3.28, 3.32, 3.36]
zq_act = [0.995, 0.975, 0.955, 0.937, 0.922, 0.911, 0.904, 0.901, 0.901, 0.905, 0.911, 0.916,
          0.920, 0.921, 0.920, 0.918, 0.915, 0.913, 0.915, 0.922, 0.937, 0.962, 0.995]
zq_ads = [0.995, 0.975, 0.955, 0.937, 0.922, 0.911, 0.904, 0.901, 0.901, 0.905, 0.911, 0.916,
          0.920, 0.920, 0.918, 0.914, 0.911, 0.909, 0.910, 0.915, 0.926, 0.947, 0.975]
zq_idft_t = [2.48, 2.52, 2.56, 2.6, 2.63, 2.66, 2.68, 2.7, 2.74, 2.77, 2.8, 2.83, 2.85, 2.86,
             2.87, 2.89, 2.92, 2.96, 3.0, 3.04, 3.08, 3.11, 3.14, 3.18, 3.22, 3.26, 3.3, 3.35]
zq_idft = [0.995, 0.985, 0.965, 0.948, 0.940, 0.915, 0.912, 0.925, 0.928, 0.935, 0.926, 0.930,
           0.905, 0.985, 0.950, 0.955, 0.950, 0.947, 0.952, 0.945, 0.937, 0.945, 0.923, 0.928,
           0.932, 0.945, 0.962, 0.995]
zq_huber_t = [2.48, 2.52, 2.56, 2.58, 2.59, 2.6, 2.64, 2.68, 2.72, 2.76, 2.8, 2.84, 2.87,
              2.92, 2.95, 2.97, 3.0, 3.05, 3.1, 3.13, 3.17, 3.2, 3.24]
zq_huber = [1.010, 0.990, 0.960, 0.930, 0.893, 0.945, 0.955, 0.962, 0.965, 0.975, 0.984, 0.980,
            0.990, 0.986, 0.975, 0.963, 0.968, 0.970, 0.966, 0.963, 0.970, 0.975, 1.010]

# psi_d9, window 2.6-3.4 s
zp_t = [2.6, 2.65, 2.7, 2.75, 2.8, 2.85, 2.9, 2.95, 3.0, 3.05, 3.1, 3.15, 3.2, 3.25, 3.3, 3.35, 3.4]
zp_act = [0.813, 0.790, 0.772, 0.757, 0.748, 0.745, 0.746, 0.749, 0.753, 0.757, 0.761, 0.765,
          0.772, 0.782, 0.795, 0.813, 0.837]
zp_ads = [0.813, 0.790, 0.772, 0.757, 0.748, 0.745, 0.746, 0.749, 0.752, 0.755, 0.758, 0.762,
          0.767, 0.775, 0.786, 0.803, 0.823]
zp_idft_t = [2.6, 2.65, 2.7, 2.75, 2.78, 2.79, 2.8, 2.83, 2.86, 2.88, 2.9, 2.95, 3.0, 3.05,
             3.1, 3.15, 3.2, 3.25, 3.3, 3.35, 3.4]
zp_idft = [0.813, 0.785, 0.765, 0.750, 0.742, 0.722, 0.745, 0.740, 0.738, 0.744, 0.740, 0.742,
           0.748, 0.750, 0.752, 0.754, 0.757, 0.762, 0.767, 0.772, 0.777]
zp_huber_t = [2.6, 2.65, 2.7, 2.74, 2.76, 2.78, 2.82, 2.86, 2.9, 2.95, 3.0, 3.02, 3.04, 3.08,
              3.12, 3.16, 3.2, 3.25, 3.3, 3.35, 3.4]
zp_huber = [0.833, 0.805, 0.785, 0.765, 0.750, 0.772, 0.765, 0.768, 0.767, 0.770, 0.772, 0.785,
            0.808, 0.803, 0.806, 0.809, 0.811, 0.815, 0.822, 0.830, 0.840]

# ============================================================================
fig = go.Figure()

STYLE = {
    "hub": dict(color=C_HUB, width=3),
    "idf": dict(color=C_IDF, width=3.5),
    "ads": dict(color=C_ADS, width=2.5, dash="6px,4px"),
    "act": dict(color=C_ACT, width=1.2),
}
NAMES = {"hub": "Huber-M CKF", "idf": "IDFT-UKF", "ads": "ADS-RSCKF", "act": "Actual Value"}


def ref(kind, n):
    return kind if n == 1 else f"{kind}{n}"


def fmt(v):
    return f"{v:g}"


def axis_ticks(vals, labels, tl, gridcolor, gridwidth):
    """Labelled ticks become major ticks; unlabelled ones only keep tick mark and grid."""
    labels = labels or [fmt(v) for v in vals]
    major = [(v, s) for v, s in zip(vals, labels) if s]
    minor = [v for v, s in zip(vals, labels) if not s]
    out = dict(tickmode="array", tickvals=[v for v, _ in major], ticktext=[s for _, s in major],
               gridcolor=gridcolor, gridwidth=gridwidth)
    if minor:
        out["minor"] = dict(tickmode="array", tickvals=minor, ticks="inside", ticklen=tl,
                            tickcolor="black", showgrid=True, gridcolor=gridcolor,
                            gridwidth=gridwidth)
    return out


def add_box(n, xpx, ypx, xr, yr, xt, yt, xtt=None, ytt=None, size=17, tl=4):
    base = dict(showline=True, mirror=True, linecolor="black", linewidth=1,
                ticks="inside", ticklen=tl, tickcolor="black", zeroline=False,
                showgrid=True, fixedrange=True, layer="above traces",
                tickfont=dict(family=FONT, size=size, color="black"))
    xa = dict(base, domain=[xpx[0] / W, xpx[1] / W], range=xr, anchor=ref("y", n),
              **axis_ticks(xt, xtt, tl, "#6a6a6a", 0.7))
    ya = dict(base, domain=[1 - ypx[1] / H, 1 - ypx[0] / H], range=yr, anchor=ref("x", n),
              **axis_ticks(yt, ytt, tl, "#b0b0b0", 1))
    fig.update_layout({("xaxis" if n == 1 else f"xaxis{n}"): xa,
                       ("yaxis" if n == 1 else f"yaxis{n}"): ya})


def add_line(n, kind, x, y, width=None):
    line = dict(STYLE[kind])
    if width:
        line["width"] = width
    if kind in ("ads", "act"):
        line.update(shape="spline", smoothing=0.8)
    fig.add_trace(go.Scatter(x=list(x), y=list(y), mode="lines", line=line, name=NAMES[kind],
                             showlegend=False, xaxis=ref("x", n), yaxis=ref("y", n),
                             hoverinfo="skip"))


X12 = [0, 2, 4, 6, 8, 10, 12]
LBL_ALL = ["0", "2", "4", "6", "8", "10", "12"]
LBL_NO6 = ["0", "2", "4", "", "8", "10", "12"]
LBL_NO68 = ["0", "2", "4", "", "", "10", "12"]

# ---- seven stacked panels ----
main_panels = [
    (1, (68, 627), (7, 171), [0.7, 1.0], [0.7, 0.75, 0.8, 0.85, 0.9, 0.95, 1], LBL_ALL,
     huber_alpha, idft_alpha, ads_alpha, act_alpha),
    (2, (68, 627), (206, 358), [0.995, 1.02], [0.995, 1, 1.005, 1.01, 1.015, 1.02], LBL_ALL,
     huber_omega, idft_omega, ads_omega, act_omega),
    (3, (70, 628), (389, 547), [0.7, 1.2], [0.7, 0.8, 0.9, 1, 1.1, 1.2], LBL_ALL,
     huber_efd, idft_efd, ads_efd, act_efd),
    (4, (68, 630), (572, 755), [-0.64, -0.5587], [-0.64, -0.62, -0.6, -0.58, -0.56], LBL_NO68,
     huber_ed, idft_ed, ads_ed, act_ed),
    (5, (72, 630), (778, 937), [0.878, 1.272], [0.9, 1, 1.1, 1.2], LBL_NO6,
     huber_eq, idft_eq, ads_eq, act_eq),
    (6, (72, 630), (970, 1112), [0.7, 1.1], [0.7, 0.8, 0.9, 1, 1.1], LBL_NO6,
     huber_psd, idft_psd, ads_psd, act_psd),
    (7, (73, 631), (1144, 1277), [0.55, 0.75], [0.55, 0.6, 0.65, 0.7, 0.75], LBL_ALL,
     huber_psq, idft_psq, ads_psq, act_psq),
]
for n, xp, yp, yr, yt, xl, hub, idf, ads, act in main_panels:
    add_box(n, xp, yp, [0, 12], yr, X12, yt, xtt=xl)
    if n == 3:
        add_line(n, "hub", t_fine, hub, width=2.2)
        add_line(n, "idf", t_fine, idf, width=2.6)
    else:
        add_line(n, "hub", t_main, hub)
        add_line(n, "idf", t_main, idf)
    add_line(n, "ads", t_main, ads)
    add_line(n, "act", t_main, act)

# ---- bottom row: PSS outputs ----
add_box(8, (74, 212), (1313, 1416), [0, 10], [0, 0.068], [0, 5, 10], [0, 0.02, 0.04, 0.06])
add_line(8, "hub", t_ss1, huber_ss1)
add_line(8, "idf", t_ss1, idft_ss1)
add_line(8, "ads", t_ss1, ads_ss1)
add_line(8, "act", t_ss1, act_ss1)
add_box(9, (246, 416), (1313, 1416), [0, 10], [-0.022, 0.152], [0, 5, 10], [0, 0.05, 0.1, 0.15])
add_line(9, "hub", t_ss, huber_ss2)
add_line(9, "idf", t_ss, idft_ss2)
add_line(9, "ads", t_ss, ads_ss2)
add_line(9, "act", t_ss, act_ss2)
add_box(10, (451, 631), (1313, 1416), [0, 10], [-0.026, 0.152], [0, 2, 4, 6, 8, 10],
        [0, 0.05, 0.1, 0.15])
add_line(10, "hub", t_ss, huber_ss3)
add_line(10, "idf", t_ss, idft_ss3)
add_line(10, "ads", t_ss, ads_ss3)
add_line(10, "act", t_ss, act_ss3)

# ---- zoom windows ----
IS = 16
add_box(11, (143, 231), (198, 250), [5.502, 5.6155], [1.0067046, 1.0067846],
        [5.52, 5.54, 5.56, 5.58, 5.6], [1.00672, 1.00674, 1.00676, 1.00678],
        ["5.52", "", "", "", "5.6"], ["1.00672", "", "1.00676", ""], size=IS, tl=3)
add_line(11, "idf", zw1_idft_t, zw1_idft, width=2.5)
add_line(11, "ads", zw1_t, zw1_ads, width=2.5)
add_line(11, "act", zw1_t, zw1_act, width=1)

add_box(12, (302, 379), (189, 240), [5.36, 6.41], [1.00645, 1.00822],
        [5.6, 5.8, 6.0, 6.2, 6.4], [1.0065, 1.007, 1.0075, 1.008],
        ["5.6", "", "6", "", "6.4"], ["1.0065", "1.007", "", "1.008"], size=IS, tl=3)
add_line(12, "hub", zw2_t, zw2_huber, width=3)
add_line(12, "idf", zw2_t, zw2_idft, width=3)
add_line(12, "ads", zw2_t, zw2_ads, width=2.2)
add_line(12, "act", zw2_t, zw2_act, width=1)

add_box(13, (267, 443), (439, 518), [8.51, 9.75], [1.0224, 1.1153],
        [8.6, 8.8, 9.0, 9.2, 9.4, 9.6], [1.04, 1.06, 1.08, 1.1], size=IS, tl=3)
add_line(13, "hub", ze1_tn, ze1_huber, width=2.2)
add_line(13, "idf", ze1_tn, ze1_idft, width=2.6)
add_line(13, "ads", ze1_t, ze1_ads, width=2)
add_line(13, "act", ze1_t, ze1_act, width=1.2)

add_box(14, (503, 623), (450, 511), [8.84, 9.36], [1.0561, 1.0745],
        [8.9, 9.0, 9.1, 9.2, 9.3], [1.06, 1.065, 1.07], size=15, tl=3)
add_line(14, "hub", ze2_tn, ze2_huber, width=2.2)
add_line(14, "idf", ze2_tn, ze2_idft, width=2.4)
add_line(14, "ads", ze2_tn, ze2_ads, width=1.6)
add_line(14, "act", ze2_t, ze2_act, width=1.2)

add_box(15, (315, 476), (679, 763), [2.87, 3.824], [-0.6202, -0.6027],
        [3.0, 3.2, 3.4, 3.6, 3.8], [-0.615, -0.61, -0.605], size=IS, tl=3)
add_line(15, "hub", zd1_huber_t, zd1_huber, width=2.8)
add_line(15, "idf", zd1_idft_t, zd1_idft, width=3)
add_line(15, "ads", zd1_ads_t, zd1_ads, width=2.2)
add_line(15, "act", zd1_t, zd1_act, width=1)

add_box(16, (515, 626), (572, 628), [9.12, 11.13], [-0.6106, -0.5941],
        [9.5, 10, 10.5, 11], [-0.61, -0.605, -0.6, -0.595], size=IS, tl=3)
add_line(16, "hub", zd2_t, zd2_huber, width=2.8)
add_line(16, "idf", zd2_t, zd2_idft, width=3)
add_line(16, "ads", zd2_t, zd2_ads, width=2.2)
add_line(16, "act", zd2_t, zd2_act, width=1)

add_box(17, (302, 417), (873, 938), [2.48, 3.35], [0.8836, 1.002],
        [2.6, 2.8, 3.0, 3.2], [0.9, 0.94, 0.98], size=IS, tl=3)
add_line(17, "hub", zq_huber_t, zq_huber, width=2.6)
add_line(17, "idf", zq_idft_t, zq_idft, width=3)
add_line(17, "ads", zq_t, zq_ads, width=2.4)
add_line(17, "act", zq_t, zq_act, width=1)

add_box(18, (294, 417), (1040, 1113), [2.6, 3.4], [0.714, 0.86],
        [2.6, 2.8, 3.0, 3.2, 3.4], [0.75, 0.8, 0.85], size=IS, tl=3)
add_line(18, "hub", zp_huber_t, zp_huber, width=2.6)
add_line(18, "idf", zp_idft_t, zp_idft, width=3)
add_line(18, "ads", zp_t, zp_ads, width=2.4)
add_line(18, "act", zp_t, zp_act, width=1)


# ---- highlight ellipses, arrows, legend ----
def px_x(p):
    return p / W


def px_y(p):
    return 1 - p / H


def ellipse(x0, y0, x1, y1):
    return dict(type="circle", xref="paper", yref="paper", x0=px_x(x0), x1=px_x(x1),
                y0=px_y(y1), y1=px_y(y0), fillcolor=OLIVE, layer="below",
                line=dict(color="black", width=1, dash="dashdot"))


def tilted_ellipse(cx, cy, a, b, deg, k=60):
    ang = np.radians(deg)
    th = np.linspace(0, 2 * np.pi, k, endpoint=False)
    xs = cx + a * np.cos(th) * np.cos(ang) - b * np.sin(th) * np.sin(ang)
    ys = cy - (a * np.cos(th) * np.sin(ang) + b * np.sin(th) * np.cos(ang))
    path = "M " + " L ".join(f"{px_x(x):.5f},{px_y(y):.5f}" for x, y in zip(xs, ys)) + " Z"
    return dict(type="path", path=path, xref="paper", yref="paper", fillcolor=OLIVE,
                layer="below", line=dict(color="black", width=1, dash="dashdot"))


shapes = [
    ellipse(317, 273, 370, 293),
    ellipse(467, 407, 529, 447),
    ellipse(193, 666, 255, 713),
    tilted_ellipse(532, 670, 39, 11, 30),
    ellipse(175, 878, 238, 935),
    ellipse(183, 1057, 247, 1112),
    dict(type="circle", xref="x12", yref="y12", x0=5.50, x1=5.66, y0=1.00662, y1=1.00686,
         fillcolor=OLIVE, layer="below", line=dict(color="black", width=1, dash="dash")),
    dict(type="circle", xref="x13", yref="y13", x0=8.87, x1=9.42, y0=1.0518, y1=1.0847,
         layer="above", line=dict(color="black", width=1, dash="dashdot")),
]

annotations = []

# legend box on the top panel
LEG_BOX = (283, 14, 470, 92)
LEG_ROWS = [("hub", 28), ("idf", 47), ("ads", 66), ("act", 84)]
shapes.append(dict(type="rect", xref="paper", yref="paper",
                   x0=px_x(LEG_BOX[0]), x1=px_x(LEG_BOX[2]),
                   y0=px_y(LEG_BOX[3]), y1=px_y(LEG_BOX[1]),
                   fillcolor="white", line=dict(color="black", width=1), layer="above"))
for kind, ry in LEG_ROWS:
    st = STYLE[kind]
    shapes.append(dict(type="line", xref="paper", yref="paper",
                       x0=px_x(289), x1=px_x(322), y0=px_y(ry), y1=px_y(ry), layer="above",
                       line=dict(color=st["color"], width=st["width"], dash=st.get("dash", "solid"))))
    annotations.append(dict(x=px_x(327), y=px_y(ry), xref="paper", yref="paper",
                            xanchor="left", yanchor="middle", text=NAMES[kind], showarrow=False,
                            font=dict(family=FONT, size=17, color="black")))


def arrow(tail, head):
    annotations.append(dict(x=px_x(head[0]), y=px_y(head[1]), xref="paper", yref="paper",
                            ax=tail[0] - head[0], ay=tail[1] - head[1], text="",
                            showarrow=True, arrowhead=2, arrowsize=1, arrowwidth=1.2,
                            arrowcolor=ARROW))


arrow((341, 275), (341, 242))
arrow((316, 228), (233, 228))
arrow((465, 440), (446, 457))
arrow((395, 483), (468, 493))
arrow((247, 699), (282, 704))
arrow((515, 668), (519, 646))
arrow((232, 912), (281, 917))
arrow((240, 1085), (284, 1080))

# "Time (s)" labels
for cx, cy in [(584, 162), (584, 370), (590, 545), (583, 739), (590, 927),
               (581, 1104), (581, 1262), (177, 1407), (381, 1407), (595, 1407)]:
    annotations.append(dict(x=px_x(cx), y=px_y(cy), xref="paper", yref="paper",
                            xanchor="center", yanchor="middle",
                            text="<b>Time (s)</b>", showarrow=False,
                            font=dict(family=FONT, size=19, color="black")))

# rotated axis titles
titles = [
    (12, 93, "<b>Estimated α</b><sub>9</sub> (rad)"),
    (12, 285, "<b>Estimated ω</b><sub>9</sub> <i>(p.u.)</i>"),
    (12, 471, "<b>Estimated E</b><sub><i>fd</i> 9</sub><i>(p.u.)</i>"),
    (12, 666, "<b>Estimated e</b><sub><i>d</i></sub><sup>'</sup><sub>9</sub><i>(p.u.)</i>"),
    (12, 860, "<b>Estimated e</b><sub><i>q</i></sub><sup>'</sup><sub>9</sub><i>(p.u.)</i>"),
    (12, 1044, "<b>Estimated ψ</b><sub><i>d</i> 9</sub><i> (p.u.)</i>"),
    (12, 1213, "<b>Estimated ψ</b><sub><i>q</i> 9</sub><i> (p.u.)</i>"),
    (17, 1372, "<b><i>p</i></b><sub><b>ss1 9</b></sub><b> (p.u.)</b>"),
    (256, 1354, "<b><i>p</i></b><sub><b>ss2 9</b></sub>"),
    (462, 1347, "<b><i>p</i></b><sub><b>ss3 9</b></sub>"),
]
for cx, cy, txt in titles:
    annotations.append(dict(x=px_x(cx), y=px_y(cy), xref="paper", yref="paper", text=txt,
                            xanchor="center", yanchor="middle",
                            textangle=-90, showarrow=False,
                            font=dict(family=FONT, size=18, color="black")))

fig.update_layout(
    width=W, height=H, autosize=False,
    margin=dict(l=0, r=0, t=0, b=0),
    paper_bgcolor="white", plot_bgcolor="white",
    font=dict(family=FONT, size=16, color="black"),
    shapes=shapes, annotations=annotations,
    showlegend=False, hovermode=False,
)

fig.write_html("out.html")
